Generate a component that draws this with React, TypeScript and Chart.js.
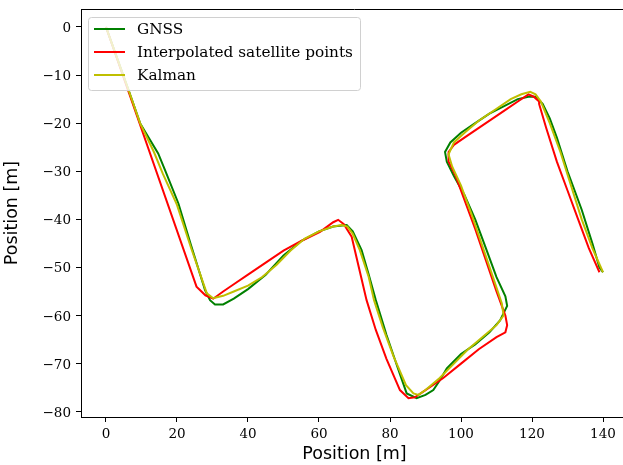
import React, { useEffect, useRef } from "react";
import { Chart, registerables } from "chart.js";

Chart.register(...registerables);

const seriesLabels = ["GNSS", "Interpolated satellite points", "Kalman"];
const seriesColors = ["#008000", "#ff0000", "#bfbf00"];

const gnssX = [0, 3, 6.3, 9.6, 12, 14.7, 16.6, 20.4, 24, 27.9, 29.3, 30.7, 33, 36, 40, 45, 50, 55, 60, 64, 67.8, 69.5, 72, 74, 76, 79, 82, 84.7, 87.5, 90, 92.2, 94, 96, 100, 104, 108, 111, 113, 112.5, 110, 107, 104, 101, 98, 96, 95.5, 97, 100, 104, 108, 112, 116, 119, 121, 123, 125, 127, 130, 134, 137, 139, 140];
const gnssY = [0, -6.2, -13, -20, -23, -26.3, -29.7, -36.7, -45.5, -54.7, -56.8, -57.7, -57.7, -56.5, -54.5, -51.5, -47.5, -44.5, -42.5, -41.5, -41.2, -42.5, -46.4, -51.5, -56.8, -64, -70.5, -76.2, -77.2, -76.5, -75.5, -73.5, -71, -68, -66, -63.5, -61, -58, -56, -52, -46, -40, -35, -31, -28, -26, -24, -22, -20, -18, -16.5, -15, -14.5, -14.5, -16, -19, -23, -30, -38, -45, -50, -51];

const interpX = [0, 25.5, 28, 30.2, 33, 36, 40, 45, 50, 55, 60.3, 64, 65.4, 67, 69.2, 73.4, 76, 79, 82.8, 85.2, 87, 90, 95, 100, 105, 110, 112.5, 113, 112.5, 110, 107, 104, 101, 98.5, 96.5, 96.5, 98, 102, 107, 112, 116, 119, 120.5, 122, 122, 124, 127, 130, 133, 136, 139];
const interpY = [0, -54, -55.8, -56.5, -55, -53.5, -51.5, -49, -46.5, -44.5, -42.6, -40.6, -40.1, -41, -43.6, -56.8, -63, -69, -75.5, -77.2, -77, -75.5, -73, -70, -67, -64.5, -63.5, -62, -60, -55, -48.5, -42, -36, -31, -28, -26, -24.5, -22.5, -20, -17.5, -15.5, -14, -14.5, -15.5, -16, -21, -28, -34, -40, -46, -51];

const kalmanX = [0, 3, 6.3, 9.6, 13.5, 16, 20, 24, 28.4, 30.2, 33, 36, 40, 44, 48, 52, 56, 60, 64, 66.4, 68, 69.5, 71.5, 74, 75.5, 78, 81, 84.5, 86.6, 88, 90, 94, 98, 102, 106, 110, 112, 111.5, 109, 106, 103, 100, 97.5, 96.5, 98, 101, 105, 110, 114, 117, 119.5, 121, 122.5, 125, 128, 131, 134, 137, 140];
const kalmanY = [0, -6.2, -13, -20, -26, -30.5, -37, -46, -55.4, -56.4, -55.9, -55, -53.8, -52, -49.5, -46.5, -44, -42.5, -41.5, -41.2, -41.5, -43, -46.4, -52, -56.8, -62.5, -68.5, -74.5, -76.2, -76.5, -75.5, -73, -70, -67, -64.5, -62, -60, -57.5, -52, -45.5, -39, -33, -29, -26.5, -24, -22, -19.5, -17, -15, -14, -13.5, -14, -15.5, -20, -26, -33, -40, -46, -51];

const xTicks = [0, 20, 40, 60, 80, 100, 120, 140];
const yTicks = [0, -10, -20, -30, -40, -50, -60, -70, -80];

const toPoints = (xs: number[], ys: number[]) => xs.map((x, i) => ({ x, y: ys[i] }));

const legendPlugin = {
  id: "innerLegend",
  afterDatasetsDraw(chart: any) {
    const ctx = chart.ctx;
    const area = chart.chartArea;
    const x0 = area.left + 7;
    const y0 = area.top + 8;
    const w = 272;
    const h = 73;
    ctx.save();
    ctx.fillStyle = "rgba(255,255,255,0.8)";
    ctx.strokeStyle = "#d0d0d0";
    ctx.lineWidth = 1;
    ctx.beginPath();
    ctx.roundRect(x0 + 0.5, y0 + 0.5, w, h, 3);
    ctx.fill();
    ctx.stroke();
    ctx.font = "15.3px 'DejaVu Serif'";
    ctx.textBaseline = "middle";
    chart.data.datasets.forEach((ds: any, i: number) => {
      const cy = y0 + 12 + i * 23;
      ctx.strokeStyle = ds.borderColor;
      ctx.lineWidth = 2;
      ctx.beginPath();
      ctx.moveTo(x0 + 6, cy);
      ctx.lineTo(x0 + 37, cy);
      ctx.stroke();
      ctx.fillStyle = "#000";
      ctx.fillText(ds.label, x0 + 49, cy + 1);
    });
    ctx.restore();
  },
};

export default function App() {
  const ref = useRef<HTMLCanvasElement>(null);
  useEffect(() => {
    document.body.style.margin = "0";
    const xsAll = [gnssX, interpX, kalmanX];
    const ysAll = [gnssY, interpY, kalmanY];
    const chart = new Chart(ref.current!, {
      type: "scatter",
      data: {
        datasets: seriesLabels.map((label, i) => ({
          label,
          data: toPoints(xsAll[i], ysAll[i]),
          showLine: true,
          borderColor: seriesColors[i],
          backgroundColor: seriesColors[i],
          borderWidth: 2,
          pointRadius: 0,
          tension: 0,
          order: 2 - i,
        })),
      },
      options: {
        animation: false,
        responsive: false,
        events: [],
        layout: { padding: { top: 9, right: 0, left: 0, bottom: 0 } },
        plugins: { legend: { display: false }, tooltip: { enabled: false } },
        scales: {
          x: {
            type: "linear",
            min: -7.04,
            max: 147.04,
            afterBuildTicks: (s: any) => { s.ticks = xTicks.map((v) => ({ value: v })); },
            afterFit: (s: any) => { s.height = 48; s.paddingLeft = 0; s.paddingRight = 0; },
            grid: { drawOnChartArea: false, tickLength: 5, tickColor: "#000", tickWidth: 1 },
            border: { color: "#000", width: 1 },
            ticks: {
              color: "#000",
              padding: 4,
              maxRotation: 0,
              font: { family: "'DejaVu Serif'", size: 13.5 },
              callback: (v: any) => String(v).replace("-", "\u2212"),
            },
            title: {
              display: true,
              text: "Position [m]",
              color: "#000",
              font: { family: "'DejaVu Sans'", size: 17.5 },
              padding: 0,
            },
          },
          y: {
            type: "linear",
            min: -81.1,
            max: 3.74,
            afterBuildTicks: (s: any) => { s.ticks = yTicks.map((v) => ({ value: v })); },
            afterFit: (s: any) => { s.width = 81; s.paddingTop = 0; s.paddingBottom = 0; },
            grid: { drawOnChartArea: false, tickLength: 5, tickColor: "#000", tickWidth: 1 },
            border: { color: "#000", width: 1 },
            ticks: {
              color: "#000",
              padding: 5,
              labelOffset: 1.5,
              font: { family: "'DejaVu Serif'", size: 13.5 },
              callback: (v: any) => String(v).replace("-", "\u2212"),
            },
            title: {
              display: true,
              text: "Position [m]",
              color: "#000",
              font: { family: "'DejaVu Sans'", size: 17.5 },
              padding: { top: 2, bottom: 0 },
            },
          },
        },
      },
      plugins: [
        legendPlugin,
        {
          id: "frame",
          afterDatasetsDraw(c: any) {
            const { ctx, chartArea: a } = c;
            ctx.save();
            ctx.strokeStyle = "#000";
            ctx.lineWidth = 1;
            ctx.beginPath();
            ctx.moveTo(a.left, a.top + 0.5);
            ctx.lineTo(c.width, a.top + 0.5);
            ctx.stroke();
            ctx.restore();
          },
        },
      ],
    } as any);
    return () => chart.destroy();
  }, []);
  return (
    <div style={{ position: "absolute", left: 0, top: 0, width: 623, height: 465, overflow: "hidden" }}>
      <canvas ref={ref} width={628} height={465} style={{ width: 628, height: 465, display: "block" }} />
    </div>
  );
}
